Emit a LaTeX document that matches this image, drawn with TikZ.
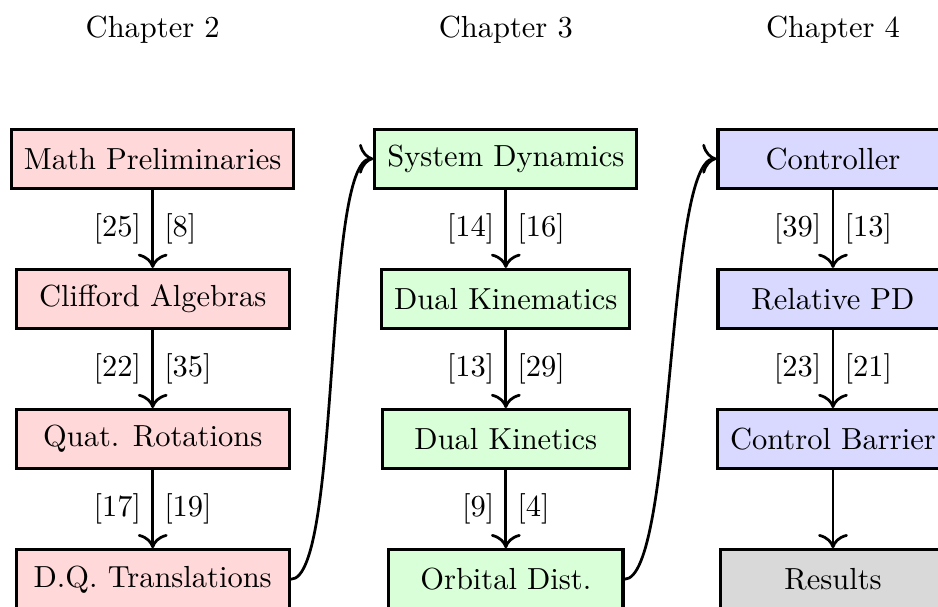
\documentclass[tikz,border=0pt]{standalone}
\usetikzlibrary{arrows,arrows.meta,positioning,calc}
\definecolor{prelimred}{RGB}{255,217,217}
\definecolor{dynagreen}{RGB}{217,255,217}
\definecolor{ctrlblue}{RGB}{217,217,255}
\definecolor{resgray}{RGB}{217,217,217}
\tikzset{
  blk/.style={draw,line width=1pt,align=center,inner xsep=4pt,minimum height=0.68cm},
  pre/.style={blk,fill=prelimred,minimum width=3.15cm},
  dyn/.style={blk,fill=dynagreen},
  ctl/.style={blk,fill=ctrlblue,minimum width=2.65cm},
  res/.style={blk,fill=resgray,minimum width=2.6cm},
  chap/.style={anchor=south},
  arr/.style={-{To[scale=1.3]},line width=0.9pt},
}

\begin{document}
\begin{tikzpicture}[x=1cm,y=1cm]
\useasboundingbox (-1.76,1.83) rectangle (9.05,-5.16);
% chapter 2
\node[pre] (math) at (0,0) {Math Preliminaries};
\node[pre,anchor=north] (cliff) at ($(math.south)+(0,-0.9)$) {Clifford Algebras};
\node[pre,anchor=north] (quat) at ($(cliff.south)+(0,-0.9)$) {Quat. Rotations};
\node[pre,anchor=north] (dqt) at ($(quat.south)+(0,-0.9)$) {D.Q. Translations};
% chapter 3
\node[dyn,anchor=west,minimum width=3.02cm] (sysdyn) at ($(math.east)+(0.9,0)$) {System Dynamics};
\node[dyn,anchor=north,minimum width=2.85cm] (dkin) at ($(sysdyn.south)+(0,-0.9)$) {Dual Kinematics};
\node[dyn,anchor=north,minimum width=2.85cm] (dknt) at ($(dkin.south)+(0,-0.9)$) {Dual Kinetics};
\node[dyn,anchor=north,minimum width=2.7cm] (orbit) at ($(dknt.south)+(0,-0.9)$) {Orbital Dist.};
% chapter 4
\node[ctl,anchor=west] (ctrl) at ($(sysdyn.east)+(0.9,0)$) {Controller};
\node[ctl,anchor=north] (relpd) at ($(ctrl.south)+(0,-0.9)$) {Relative PD};
\node[ctl,anchor=north] (cbf) at ($(relpd.south)+(0,-0.9)$) {Control Barrier};
\node[res,anchor=north] (res) at ($(cbf.south)+(0,-0.9)$) {Results};
\node[chap] (ch2) at ($(math.north)+(0,0.85)$) {Chapter 2};
\node[chap] (ch3) at ($(sysdyn.north)+(0,0.85)$) {Chapter 3};
\node[chap] (ch4) at ($(ctrl.north)+(0,0.85)$) {Chapter 4};
\draw[arr] (math) -- node[left] {[25]} node[right] {[8]} (cliff);
\draw[arr] (cliff) -- node[left] {[22]} node[right] {[35]} (quat);
\draw[arr] (quat) -- node[left] {[17]} node[right] {[19]} (dqt);
\draw[arr] (sysdyn) -- node[left] {[14]} node[right] {[16]} (dkin);
\draw[arr] (dkin) -- node[left] {[13]} node[right] {[29]} (dknt);
\draw[arr] (dknt) -- node[left] {[9]} node[right] {[4]} (orbit);
\draw[arr] (ctrl) -- node[left] {[39]} node[right] {[13]} (relpd);
\draw[arr] (relpd) -- node[left] {[23]} node[right] {[21]} (cbf);
\draw[arr] (cbf) -- (res);
\draw[arr] (dqt.east) to[out=0,in=180,looseness=0.3] (sysdyn.west);
\draw[arr] (orbit.east) to[out=0,in=180,looseness=0.3] (ctrl.west);
\end{tikzpicture}
\end{document}
